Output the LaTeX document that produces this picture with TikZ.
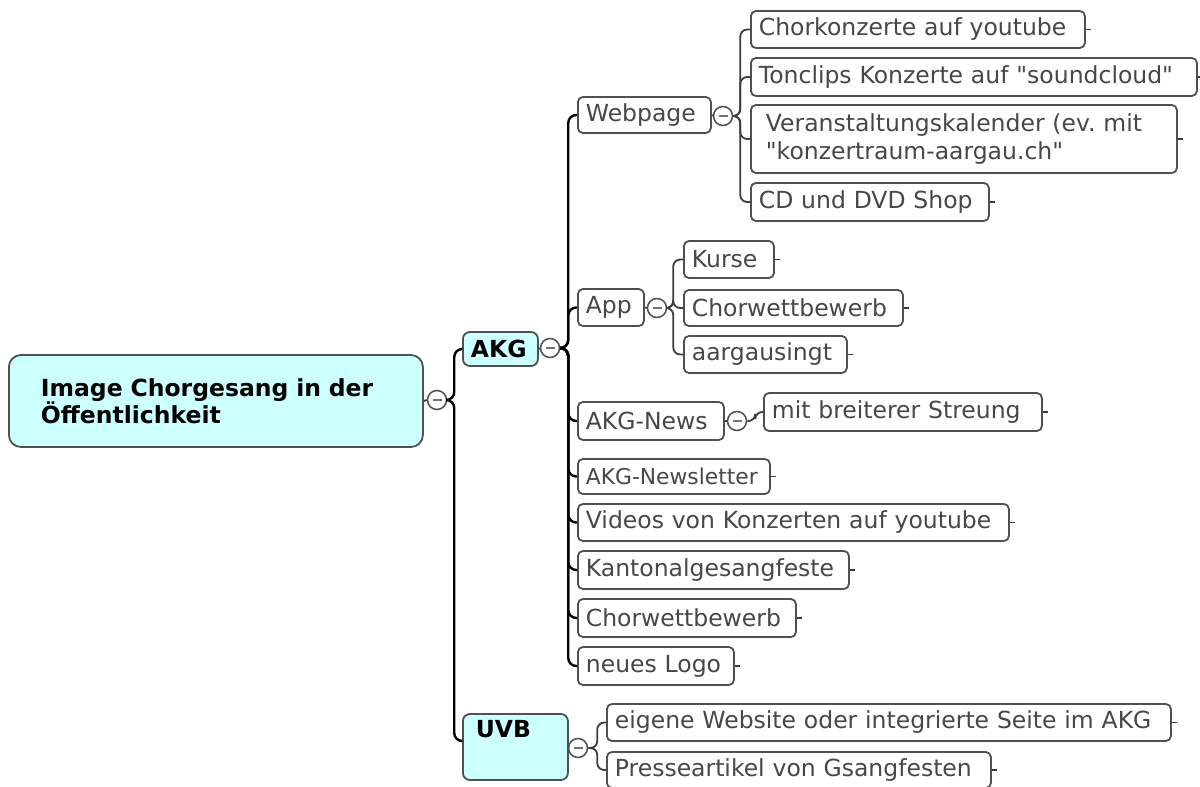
\documentclass[tikz,border=0pt]{standalone}
\usepackage{fontspec}
\setmainfont{DejaVu Sans}
\newfontfamily\mapfont{DejaVu Sans}
\frenchspacing
\definecolor{boxline}{HTML}{505050}
\definecolor{txt}{HTML}{474747}
\definecolor{cyanfill}{HTML}{CCFFFF}
\definecolor{connc}{HTML}{3C3C3C}
\tikzset{
  leaf/.style={draw=boxline, line width=1.8pt, rounded corners=5pt, fill=white, text=txt,
    anchor=west, inner xsep=8pt, inner ysep=0pt, minimum height=37pt, align=left,
    font=\mapfont\frenchspacing\fontsize{23.5}{28}\selectfont},
  topic/.style={draw=boxline, line width=1.8pt, rounded corners=7pt, fill=cyanfill, text=black,
    anchor=west, inner ysep=0pt, align=left, font=\mapfont\bfseries\fontsize{23.5}{27}\selectfont},
  circ/.style={circle, draw=boxline, line width=1.5pt, fill=white, minimum size=19pt, inner sep=0pt,
    path picture={\draw[line width=2pt, boxline!80] ([xshift=-4.5pt]path picture bounding box.center) -- ([xshift=4.5pt]path picture bounding box.center);}},
  conn/.style={draw=connc, line width=1.8pt, rounded corners=7pt},
  trunk/.style={draw=black, line width=2.4pt, rounded corners=8pt},
  tick/.style={draw=connc, line width=1.5pt}
}
\begin{document}
\begin{tikzpicture}[x=1pt,y=-1pt]
\useasboundingbox (0,0) rectangle (1200,787);

% root and main topics
\node[topic, rounded corners=12pt, text width=350pt, inner xsep=32pt, minimum height=92pt] (root) at (8,401) {Image Chorgesang in der\\Öffentlichkeit};
\node[circ] (c0) at (437,400) {};
\node[topic, text width=59pt, inner xsep=8pt, minimum height=34pt] (akg) at (462,349) {AKG};
\node[circ] (c1) at (550,348) {};
\node[topic, text width=79pt, inner xsep=13pt, inner ysep=7pt, text height=16pt, text depth=36pt] (uvb) at (462,747) {UVB};
\node[circ] (c6) at (578,748) {};

% AKG children
\node[leaf, text width=117pt, minimum height=36pt] (web) at (577,115) {Webpage};
\node[circ] (c2) at (723,116) {};
\node[leaf, text width=318pt] (w1) at (750,29.5) {Chorkonzerte auf youtube};
\node[leaf, text width=430pt, minimum height=38pt] (w2) at (750,77) {Tonclips Konzerte auf "soundcloud"};
\node[leaf, text width=396pt, inner xsep=15pt, minimum height=68pt] (w3) at (750,139) {Veranstaltungskalender (ev. mit\\"konzertraum-aargau.ch"};
\node[leaf, text width=222pt, minimum height=38pt] (w4) at (750,202) {CD und DVD Shop};

\node[leaf, text width=50pt] (app) at (577,307.5) {App};
\node[circ] (c3) at (657,308) {};
\node[leaf, text width=74pt] (a1) at (683,259.5) {Kurse};
\node[leaf, text width=203pt, minimum height=36pt] (a2) at (683,308) {Chorwettbewerb};
\node[leaf, text width=147pt] (a3) at (683,354.5) {aargausingt};

\node[leaf, text width=130pt, minimum height=38pt] (news) at (577,421) {AKG-News};
\node[circ] (c5) at (737,421) {};
\node[leaf, text width=262pt, minimum height=38pt] (n1) at (763,412) {mit breiterer Streung};

\node[leaf, text width=176pt, minimum height=35pt, font=\mapfont\fontsize{21.8}{26}\selectfont] (nl) at (577,476.5) {AKG-Newsletter};
\node[leaf, text width=415pt] (vid) at (577,522.5) {Videos von Konzerten auf youtube};
\node[leaf, text width=255pt, minimum height=38pt] (kgf) at (577,570) {Kantonalgesangfeste};
\node[leaf, text width=202pt, minimum height=38pt] (cw) at (577,618) {Chorwettbewerb};
\node[leaf, text width=140pt, minimum height=38pt] (logo) at (577,666) {neues Logo};

% UVB children
\node[leaf, text width=548pt] (u1) at (606,722.5) {eigene Website oder integrierte Seite im AKG};
\node[leaf, text width=368pt, minimum height=36pt] (u2) at (606,770) {Presseartikel von Gsangfesten};

% connectors: root
\draw[conn] (root.east) -- (c0.west);
\draw[trunk] (c0.east) -- ++(7,0) |- (akg.west);
\draw[trunk] (c0.east) -- ++(7,0) |- ([yshift=6pt]uvb.west);

% AKG
\draw[conn] (akg.east) -- (c1.west);
\foreach \n in {web,app,news,nl,vid,kgf,cw,logo}
  \draw[trunk] (c1.east) -- ++(8,0) |- (\n.west);

% Webpage
\draw[conn] (web.east) -- (c2.west);
\foreach \n in {w1,w2,w3,w4}
  \draw[conn] (c2.east) -- ++(7,0) |- (\n.west);

% App
\draw[conn] (app.east) -- (c3.west);
\foreach \n in {a1,a2,a3}
  \draw[conn] (c3.east) -- ++(6,0) |- (\n.west);

% AKG-News
\draw[conn] (news.east) -- (c5.west);
\draw[conn] (c5.east) -- ++(8,0) |- (n1.west);

% UVB
\draw[conn] (uvb.east) -- (c6.west);
\foreach \n in {u1,u2}
  \draw[conn] (c6.east) -- ++(9,0) |- (\n.west);

% small ticks on the right of leaves
\foreach \n in {w1,w2,w3,w4,a1,a2,a3,n1,nl,vid,kgf,cw,logo,u1,u2}
  \draw[tick] (\n.east) -- ++(5,0);
\end{tikzpicture}
\end{document}
